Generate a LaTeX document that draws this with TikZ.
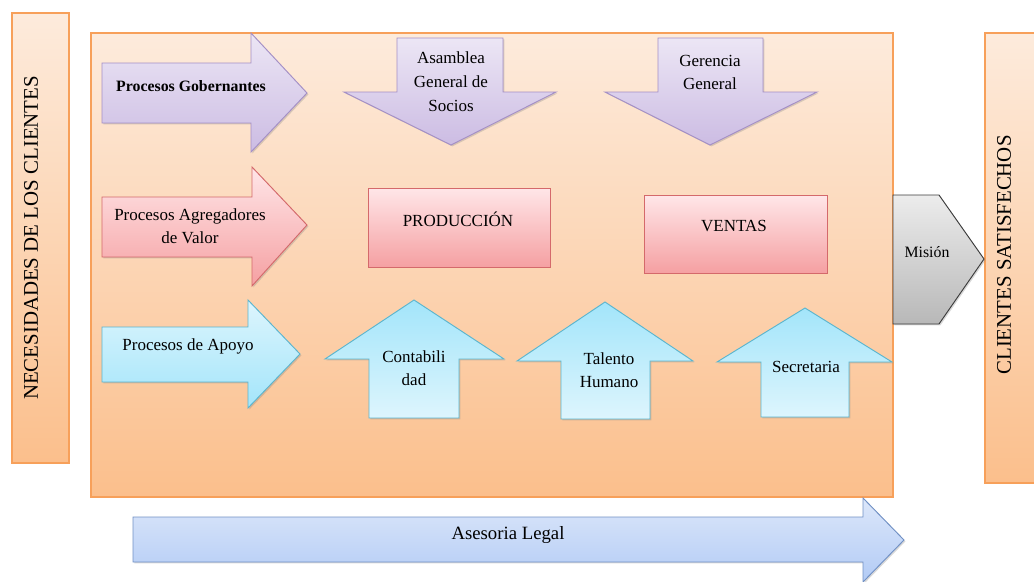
\documentclass[tikz,border=0pt]{standalone}
\usepackage{fontspec}
\setmainfont{Liberation Serif}
\usetikzlibrary{shadows}
\definecolor{peachtop}{HTML}{FDEBDC}
\definecolor{peachbot}{HTML}{FBBF8C}
\definecolor{peachline}{HTML}{F7A05A}
\definecolor{purtop}{HTML}{ECE6F5}
\definecolor{purbot}{HTML}{CCBCE3}
\definecolor{purline}{HTML}{A48FC6}
\definecolor{redtop}{HTML}{FFE6E8}
\definecolor{redbot}{HTML}{F5A0A2}
\definecolor{redline}{HTML}{D4696B}
\definecolor{cyanlight}{HTML}{DDF5FD}
\definecolor{cyandark}{HTML}{A3E5FA}
\definecolor{cyanline}{HTML}{5BB5CE}
\definecolor{graytop}{HTML}{ECECEC}
\definecolor{graybot}{HTML}{B8B8B8}
\definecolor{grayline}{HTML}{3C3C3C}
\definecolor{bluetop}{HTML}{DCE7FA}
\definecolor{bluebot}{HTML}{B2CBF5}
\definecolor{blueline}{HTML}{7090C4}
\tikzset{
  shad/.style={drop shadow={opacity=0.3,shadow xshift=1.2pt,shadow yshift=-1.2pt}},
  peachbox/.style={draw=peachline,line width=0.9pt,top color=peachtop,bottom color=peachbot,shad},
  purshape/.style={draw=purline,line width=0.8pt,top color=purtop,bottom color=purbot,shad},
  redshape/.style={draw=redline,line width=0.8pt,top color=redtop,bottom color=redbot,shad},
  cyanright/.style={draw=cyanline,line width=0.8pt,top color=cyanlight,bottom color=cyandark,shad},
  cyanup/.style={draw=cyanline,line width=0.8pt,top color=cyandark,bottom color=cyanlight,shad},
  grayshape/.style={draw=grayline,line width=0.8pt,top color=graytop,bottom color=graybot,shad},
  blueshape/.style={draw=blueline,line width=0.8pt,top color=bluetop,bottom color=bluebot,shad},
  lbl/.style={inner sep=0pt,align=center,font=\fontsize{14.5}{19.5}\selectfont},
  biglbl/.style={inner sep=0pt,font=\fontsize{17.8}{20}\selectfont},
}
\begin{document}
\begin{tikzpicture}[x=0.03cm,y=-0.03cm]
\useasboundingbox (0,0) rectangle (1034,581);
% side and main boxes
\path[peachbox] (12,13) rectangle (69,463);
\path[peachbox] (985,33) rectangle (1040,483);
\path[peachbox] (91,33) rectangle (893,497);
\node[biglbl,rotate=90] (necesidades) at (31,238) {NECESIDADES DE LOS CLIENTES};
\node[biglbl,rotate=90] (satisfechos) at (1004,255) {CLIENTES SATISFECHOS};
% row 1: governing processes
\path[purshape] (102,63) -- (251,63) -- (251,33) -- (307,93) -- (251,152) -- (251,123) -- (102,123) -- cycle;
\node[lbl,font=\fontsize{13.5}{16}\selectfont\bfseries] (gob) at (191,86) {Procesos Gobernantes};
\path[purshape] (397,38) -- (503,38) -- (503,92) -- (556,92) -- (451,145) -- (344,92) -- (397,92) -- cycle;
\node[lbl,anchor=north,font=\fontsize{14.5}{20.5}\selectfont] (asamblea) at (451,51) {Asamblea\\General de\\Socios};
\path[purshape] (658,38) -- (763,38) -- (763,92) -- (817,92) -- (710,145) -- (605,92) -- (658,92) -- cycle;
\node[lbl,anchor=north] (gerencia) at (710,55) {Gerencia\\General};
% row 2: value processes
\path[redshape] (102,197) -- (252,197) -- (252,167) -- (307,225) -- (252,286) -- (252,257) -- (102,257) -- cycle;
\node[lbl] (agregadores) at (190,226) {Procesos Agregadores\\de Valor};
\path[redshape] (368,188) rectangle (550,267);
\node[lbl] (produccion) at (458,219) {PRODUCCIÓN};
\path[redshape] (644,195) rectangle (827,273);
\node[lbl] (ventas) at (734,226) {VENTAS};
% row 3: support processes
\path[cyanright] (102,327) -- (248,327) -- (248,300) -- (300,354) -- (248,408) -- (248,382) -- (102,382) -- cycle;
\node[lbl] (apoyo) at (188,346) {Procesos de Apoyo};
\path[cyanup] (414,300) -- (504,359) -- (459,359) -- (459,418) -- (369,418) -- (369,359) -- (325,359) -- cycle;
\node[lbl] (contab) at (414,368) {Contabili\\dad};
\path[cyanup] (605,302) -- (693,361) -- (650,361) -- (650,419) -- (561,419) -- (561,361) -- (517,361) -- cycle;
\node[lbl] (talento) at (609,370) {Talento\\Humano};
\path[cyanup] (805,308) -- (892,362) -- (849,362) -- (849,417) -- (761,417) -- (761,362) -- (717,362) -- cycle;
\node[lbl] (secretaria) at (806,367) {Secretaria};
% mission
\path[grayshape] (893,195) -- (939,195) -- (984,259) -- (939,324) -- (893,324) -- cycle;
\node[lbl,font=\fontsize{13.5}{16}\selectfont] (mision) at (927,252) {Misión};
% legal
\path[blueshape] (133,517) -- (863,517) -- (863,498) -- (904,540) -- (863,582) -- (863,562) -- (133,562) -- cycle;
\node[lbl,font=\fontsize{16}{19}\selectfont] (asesoria) at (508,535) {Asesoria Legal};
\end{tikzpicture}
\end{document}
